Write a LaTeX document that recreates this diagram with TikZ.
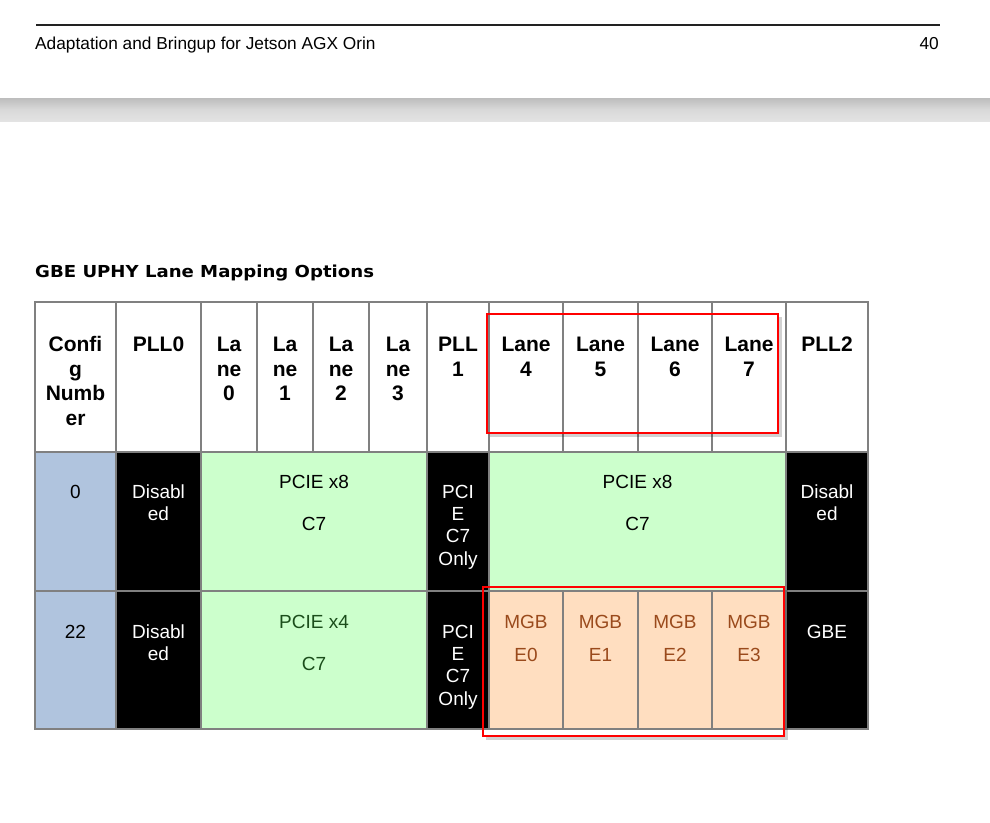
\documentclass[tikz,border=0pt]{standalone}
\usepackage{fontspec}
\setmainfont{Liberation Sans}
\newfontfamily\titlefont[FakeStretch=1.097]{DejaVu Sans}
\definecolor{gridgray}{HTML}{808080}
\definecolor{cfgblue}{HTML}{B0C4DE}
\definecolor{pcigreen}{HTML}{CCFFCC}
\definecolor{mgbpeach}{HTML}{FFDEC0}
\definecolor{mgbtext}{HTML}{9A4A1C}
\definecolor{xfourtext}{HTML}{1B4D1B}
\definecolor{markred}{HTML}{FF0000}
\definecolor{ruleblack}{HTML}{222222}
\begin{document}
\begin{tikzpicture}[x=1pt,y=-1pt,
  cellbox/.style={draw=gridgray, line width=2pt, inner sep=0pt, outer sep=0pt, anchor=north west},
  headtxt/.style={font=\bfseries\fontsize{21}{24.5}\selectfont, align=center, anchor=base, inner sep=0pt},
  bodytxt/.style={font=\fontsize{19}{22.2}\selectfont, align=center, anchor=base, inner sep=0pt},
  whitetxt/.style={bodytxt, text=white},
  mgbtxt/.style={bodytxt, text=mgbtext},
  redmark/.style={draw=markred, line width=2pt},
  markshadow/.style={draw=black, opacity=0.18, line width=2.5pt}
]
\useasboundingbox (0,0) rectangle (990,822);

% page header
\draw[ruleblack, line width=2pt] (36,25) -- (940,25);
\node[anchor=base west, inner sep=0pt, font=\fontsize{17.3}{20}\selectfont] (doctitle) at (35,49.5) {Adaptation and Bringup for Jetson AGX Orin};
\node[anchor=base east, inner sep=0pt, font=\fontsize{17.3}{20}\selectfont] (pagenum) at (939,49.5) {40};
\shade[top color=black!26, bottom color=black!11, middle color=black!15] (0,98) rectangle (990,121);

% title
\node[anchor=base west, inner sep=0pt, font=\titlefont\bfseries\fontsize{16.5}{20}\selectfont] (tabtitle) at (35,277) {GBE UPHY Lane Mapping Options};

% header row cells
\node[cellbox, fill=white, minimum width=81pt, minimum height=150pt] (hcfg) at (35,302) {};
\node[cellbox, fill=white, minimum width=85pt, minimum height=150pt] (hpll0) at (116,302) {};
\node[cellbox, fill=white, minimum width=56pt, minimum height=150pt] (hl0) at (201,302) {};
\node[cellbox, fill=white, minimum width=56pt, minimum height=150pt] (hl1) at (257,302) {};
\node[cellbox, fill=white, minimum width=56pt, minimum height=150pt] (hl2) at (313,302) {};
\node[cellbox, fill=white, minimum width=58pt, minimum height=150pt] (hl3) at (369,302) {};
\node[cellbox, fill=white, minimum width=62pt, minimum height=150pt] (hpll1) at (427,302) {};
\node[cellbox, fill=white, minimum width=74pt, minimum height=150pt] (hl4) at (489,302) {};
\node[cellbox, fill=white, minimum width=75pt, minimum height=150pt] (hl5) at (563,302) {};
\node[cellbox, fill=white, minimum width=74pt, minimum height=150pt] (hl6) at (638,302) {};
\node[cellbox, fill=white, minimum width=74pt, minimum height=150pt] (hl7) at (712,302) {};
\node[cellbox, fill=white, minimum width=82pt, minimum height=150pt] (hpll2) at (786,302) {};

% row 0 cells
\node[cellbox, fill=cfgblue, minimum width=81pt, minimum height=139pt] (acfg) at (35,452) {};
\node[cellbox, fill=black, minimum width=85pt, minimum height=139pt] (apll0) at (116,452) {};
\node[cellbox, fill=pcigreen, minimum width=226pt, minimum height=139pt] (alo) at (201,452) {};
\node[cellbox, fill=black, minimum width=62pt, minimum height=139pt] (apll1) at (427,452) {};
\node[cellbox, fill=pcigreen, minimum width=297pt, minimum height=139pt] (ahi) at (489,452) {};
\node[cellbox, fill=black, minimum width=82pt, minimum height=139pt] (apll2) at (786,452) {};

% row 22 cells
\node[cellbox, fill=cfgblue, minimum width=81pt, minimum height=138pt] (bcfg) at (35,591) {};
\node[cellbox, fill=black, minimum width=85pt, minimum height=138pt] (bpll0) at (116,591) {};
\node[cellbox, fill=pcigreen, minimum width=226pt, minimum height=138pt] (blo) at (201,591) {};
\node[cellbox, fill=black, minimum width=62pt, minimum height=138pt] (bpll1) at (427,591) {};
\node[cellbox, fill=mgbpeach, minimum width=74pt, minimum height=138pt] (bm0) at (489,591) {};
\node[cellbox, fill=mgbpeach, minimum width=75pt, minimum height=138pt] (bm1) at (563,591) {};
\node[cellbox, fill=mgbpeach, minimum width=74pt, minimum height=138pt] (bm2) at (638,591) {};
\node[cellbox, fill=mgbpeach, minimum width=74pt, minimum height=138pt] (bm3) at (712,591) {};
\node[cellbox, fill=black, minimum width=82pt, minimum height=138pt] (bpll2) at (786,591) {};

% header texts (anchor = baseline of last line)
\node[headtxt] (tcfg) at (75.5,425) {Confi\\g\\Numb\\er};
\node[headtxt] (tpll0) at (158.5,351.5) {PLL0};
\node[headtxt] (tl0) at (229,400.5) {La\\ne\\0};
\node[headtxt] (tl1) at (285,400.5) {La\\ne\\1};
\node[headtxt] (tl2) at (341,400.5) {La\\ne\\2};
\node[headtxt] (tl3) at (398,400.5) {La\\ne\\3};
\node[headtxt] (tpll1) at (458,376) {PLL\\1};
\node[headtxt] (tl4) at (526,376) {Lane\\4};
\node[headtxt] (tl5) at (600.5,376) {Lane\\5};
\node[headtxt] (tl6) at (675,376) {Lane\\6};
\node[headtxt] (tl7) at (749,376) {Lane\\7};
\node[headtxt] (tpll2) at (827,351.5) {PLL2};

% row 0 texts
\node[bodytxt] (acfgt) at (75.5,498.5) {0};
\node[whitetxt] (apll0t) at (158.5,520.7) {Disabl\\ed};
\node[bodytxt] (alot) at (314,530.7) {PCIE x8\\[20pt]C7};
\node[whitetxt] (apll1t) at (458,565.1) {PCI\\E\\C7\\Only};
\node[bodytxt] (ahit) at (637.5,530.7) {PCIE x8\\[20pt]C7};
\node[whitetxt] (apll2t) at (827,520.7) {Disabl\\ed};

% row 22 texts
\node[bodytxt] (bcfgt) at (75.5,638.5) {22};
\node[whitetxt] (bpll0t) at (158.5,660.7) {Disabl\\ed};
\node[bodytxt, text=xfourtext] (blot) at (314,670.7) {PCIE x4\\[20pt]C7};
\node[whitetxt] (bpll1t) at (458,705.1) {PCI\\E\\C7\\Only};
\node[mgbtxt] (bm0t) at (526,661.7) {MGB\\[11pt]E0};
\node[mgbtxt] (bm1t) at (600.5,661.7) {MGB\\[11pt]E1};
\node[mgbtxt] (bm2t) at (675,661.7) {MGB\\[11pt]E2};
\node[mgbtxt] (bm3t) at (749,661.7) {MGB\\[11pt]E3};
\node[whitetxt] (bpll2t) at (827,638.5) {GBE};

% red highlight boxes with soft shadow
\draw[markshadow] (780.5,317) -- (780.5,435.5) -- (490,435.5);
\draw[redmark] (487,314) rectangle (778,433);
\draw[markshadow] (786.5,590) -- (786.5,738.5) -- (486,738.5);
\draw[redmark] (483,587) rectangle (784,736);
\end{tikzpicture}
\end{document}
